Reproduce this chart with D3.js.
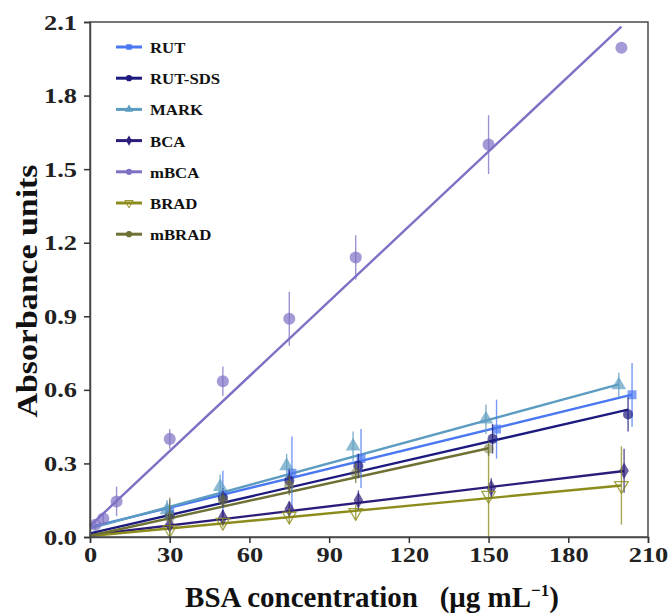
<!DOCTYPE html>
<html lang="en">
<head>
    <meta charset="UTF-8">
    <title>BSA calibration</title>
    <style>
        body { margin: 0; background: #fff; }
        text { font-family: "Liberation Serif", "DejaVu Serif", serif; font-weight: bold; }
    </style>
    <script src="https://d3js.org/d3.v7.min.js"></script>
</head>
<body>
<script>
    // series names, colours, marker shapes
    var names = ["RUT", "RUT-SDS", "MARK", "BCA", "mBCA", "BRAD", "mBRAD"];
    var colors = ["#4a78f2", "#1c1a7e", "#5c9cc0", "#2e1c7a", "#7e70c4", "#8c8c1c", "#6e7034"];
    var shapes = ["square", "circle", "triangle", "diamond", "circle", "triangledown", "circle"];

    // measured points (x = BSA conc., y = absorbance, e = error)
    var rutX = [30, 50, 76, 102, 153, 204];
    var rutY = [0.10, 0.17, 0.26, 0.32, 0.44, 0.58];
    var rutE = [0.05, 0.10, 0.15, 0.12, 0.12, 0.13];
    var sdsX = [30, 50, 75, 101, 151.5, 202.5];
    var sdsY = [0.09, 0.16, 0.23, 0.29, 0.40, 0.50];
    var sdsE = [0.03, 0.04, 0.05, 0.05, 0.06, 0.07];
    var markX = [29, 49, 74, 99, 149, 199];
    var markY = [0.11, 0.205, 0.29, 0.37, 0.48, 0.62];
    var markE = [0.04, 0.05, 0.05, 0.06, 0.06, 0.05];
    var bcaX = [30, 50, 75, 101, 151, 201];
    var bcaY = [0.05, 0.08, 0.115, 0.15, 0.20, 0.27];
    var bcaE = [0.02, 0.03, 0.03, 0.04, 0.04, 0.09];
    var mbcaX = [2, 5, 10, 30, 50, 75, 100, 150, 200];
    var mbcaY = [0.05, 0.075, 0.145, 0.40, 0.635, 0.89, 1.14, 1.60, 1.995];
    var mbcaE = [0.02, 0.02, 0.06, 0.04, 0.06, 0.11, 0.09, 0.12, 0.0];
    var bradX = [30, 50, 75, 100, 150, 200];
    var bradY = [0.03, 0.06, 0.085, 0.10, 0.17, 0.21];
    var bradE = [0.03, 0.02, 0.03, 0.03, 0.18, 0.16];
    var mbradX = [30, 50, 75, 100, 150];
    var mbradY = [0.08, 0.15, 0.21, 0.26, 0.36];
    var mbradE = [0.08, 0.03, 0.04, 0.04, 0.03];

    // linear fits: [intercept, slope, xEnd]
    var fits = [[0.04, 0.00265, 204], [0.015, 0.00249, 202.5], [0.035, 0.00295, 199], [0.008, 0.0013, 201],
                [0.045, 0.01018, 200], [0.004, 0.00103, 200], [0.005, 0.00238, 150]];

    var xTicks = [0, 30, 60, 90, 120, 150, 180, 210];
    var yTicks = [0, 0.3, 0.6, 0.9, 1.2, 1.5, 1.8, 2.1];

    var allX = [rutX, sdsX, markX, bcaX, mbcaX, bradX, mbradX];
    var allY = [rutY, sdsY, markY, bcaY, mbcaY, bradY, mbradY];
    var allE = [rutE, sdsE, markE, bcaE, mbcaE, bradE, mbradE];

    var width = 669, height = 615;
    var pl = 90, pr = 648, pt = 22, pb = 537;

    var svg = d3.select("body").append("svg")
        .attr("width", width).attr("height", height);

    var x = d3.scaleLinear().domain([0, 210]).range([pl, pr]);
    var y = d3.scaleLinear().domain([0, 2.1]).range([pb, pt]);

    var symbolOf = {
        square: d3.symbolSquare, circle: d3.symbolCircle, triangle: d3.symbolTriangle,
        diamond: d3.symbolDiamond, triangledown: d3.symbolTriangle
    };

    // stretch text wider, like the reference's squashed serif
    function widen(sel, k) {
        sel.each(function () {
            var w = this.getComputedTextLength();
            d3.select(this).attr("textLength", w * k).attr("lengthAdjust", "spacingAndGlyphs");
        });
    }

    // fit lines
    names.forEach(function (n, i) {
        var f = fits[i];
        svg.append("line")
            .attr("x1", x(0)).attr("y1", y(f[0]))
            .attr("x2", x(f[2])).attr("y2", y(f[0] + f[1] * f[2]))
            .attr("stroke", colors[i]).attr("stroke-width", 2.4);
    });

    // error bars and markers
    names.forEach(function (n, i) {
        var pts = allX[i].map(function (d, j) { return { x: d, y: allY[i][j], e: allE[i][j] }; });
        var g = svg.append("g");
        g.selectAll("line").data(pts).enter().append("line")
            .attr("x1", d => x(d.x)).attr("x2", d => x(d.x))
            .attr("y1", d => y(Math.max(0, d.y - d.e))).attr("y2", d => y(d.y + d.e))
            .attr("stroke", colors[i]).attr("stroke-width", 1.4).attr("opacity", 0.75);
        var size = i == 4 ? 115 : (i == 2 ? 95 : 80);
        g.selectAll("path").data(pts).enter().append("path")
            .attr("d", d3.symbol().type(symbolOf[shapes[i]]).size(size))
            .attr("transform", function (d) {
                return "translate(" + x(d.x) + "," + y(d.y) + ")" + (shapes[i] == "triangledown" ? " rotate(180)" : "");
            })
            .attr("fill", shapes[i] == "triangledown" ? "none" : colors[i])
            .attr("fill-opacity", i == 6 ? 0.5 : 0.7)
            .attr("stroke", colors[i]).attr("stroke-width", shapes[i] == "triangledown" ? 1.3 : 0)
            .attr("stroke-opacity", 0.8);
    });

    // frame
    svg.append("rect").attr("x", pl).attr("y", pt)
        .attr("width", pr - pl).attr("height", pb - pt)
        .attr("fill", "none").attr("stroke", "#4a4a4a").attr("stroke-width", 1.5);

    var xAxis = svg.append("g").attr("transform", "translate(0," + pb + ")")
        .call(d3.axisBottom(x).tickValues(xTicks).tickSize(6).tickPadding(3).tickFormat(d3.format("d")));
    var yAxis = svg.append("g").attr("transform", "translate(" + pl + ",0)")
        .call(d3.axisLeft(y).tickValues(yTicks).tickSize(6).tickPadding(7).tickFormat(d3.format(".1f")));
    [xAxis, yAxis].forEach(function (a) {
        a.attr("font-size", null).attr("font-family", null);
        a.select(".domain").attr("stroke", "#4a4a4a").attr("stroke-width", 1.5);
        a.selectAll(".tick line").attr("stroke", "#333").attr("stroke-width", 1.5);
        a.selectAll(".tick text").style("font-size", "22px").attr("fill", "#222");
        widen(a.selectAll(".tick text"), 1.2);
    });

    // axis titles
    svg.append("text").attr("x", 372).attr("y", 607).attr("text-anchor", "middle")
        .style("font-size", "29px").attr("fill", "#111")
        .html('BSA concentration \u00a0 (\u03bcg mL<tspan dy="-11" style="font-size:17px">\u22121</tspan><tspan dy="11">)</tspan>');
    svg.append("text").attr("transform", "translate(37,291) rotate(-90)")
        .attr("text-anchor", "middle").style("font-size", "29px").attr("fill", "#111")
        .attr("textLength", 253).attr("lengthAdjust", "spacingAndGlyphs")
        .text("Absorbance units");

    // legend
    var leg = svg.append("g");
    names.forEach(function (n, i) {
        var ly = 47 + i * 31.2;
        leg.append("line").attr("x1", 116).attr("x2", 142).attr("y1", ly).attr("y2", ly)
            .attr("stroke", colors[i]).attr("stroke-width", 3);
        leg.append("path").attr("d", d3.symbol().type(symbolOf[shapes[i]]).size(30))
            .attr("transform", "translate(129," + ly + ")" + (shapes[i] == "triangledown" ? " rotate(180)" : ""))
            .attr("fill", shapes[i] == "triangledown" ? "none" : colors[i])
            .attr("stroke", colors[i]).attr("stroke-width", shapes[i] == "triangledown" ? 1 : 0);
        leg.append("text").attr("x", 150).attr("y", ly + 6).style("font-size", "15.5px").attr("fill", "#111").text(n);
    });
    widen(leg.selectAll("text"), 1.08);
</script>
</body>
</html>
